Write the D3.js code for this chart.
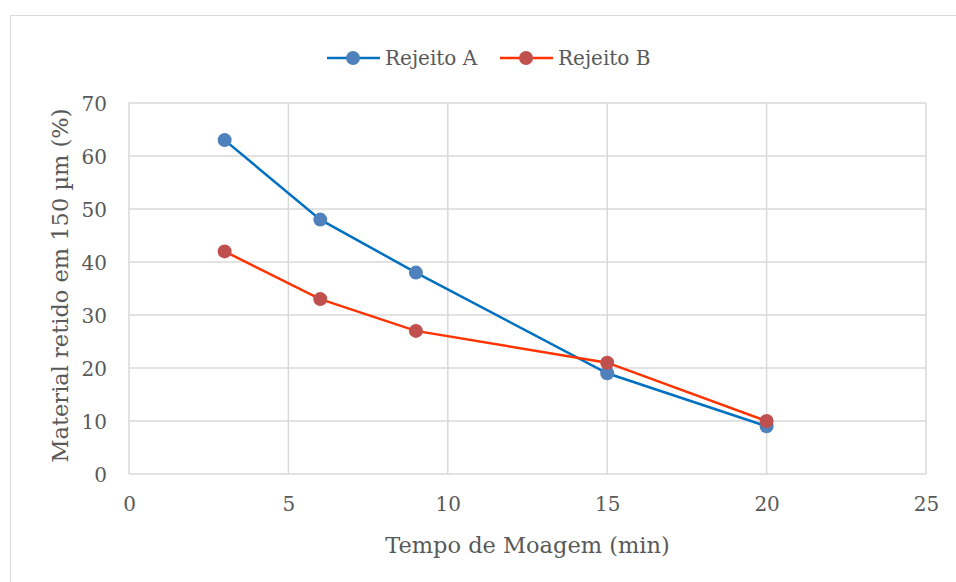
<!DOCTYPE html>
<html>
<head>
<meta charset="utf-8">
<script src="https://cdn.jsdelivr.net/npm/d3@7"></script>
<style>
  body { margin: 0; background: #fff; }
  svg text { font-family: "DejaVu Serif", serif; fill: #595959; }
</style>
</head>
<body>
<div id="chart"></div>
<script>
// data
var tempo = [3, 6, 9, 15, 20];
var rejeitoA = [63, 48, 38, 19, 9];
var rejeitoB = [42, 33, 27, 21, 10];
var xTicks = [0, 5, 10, 15, 20, 25];
var yTicks = [0, 10, 20, 30, 40, 50, 60, 70];

var series = [
  { name: "Rejeito A", values: rejeitoA, line: "#0070C0", dot: "#4F81BD" },
  { name: "Rejeito B", values: rejeitoB, line: "#FF3300", dot: "#C0504D" }
];

var svgWidth = 956;
var svgHeight = 582;

var margin = { top: 103, right: 30, bottom: 108, left: 129 };
var width = 926 - margin.left;
var height = 474 - margin.top;

var svg = d3.select("#chart")
  .append("svg")
  .attr("width", svgWidth)
  .attr("height", svgHeight);

// outer chart border
svg.append("rect")
  .attr("x", 10.5)
  .attr("y", 15.5)
  .attr("width", 960)
  .attr("height", 600)
  .attr("fill", "none")
  .attr("stroke", "#d9d9d9");

var chartGroup = svg.append("g")
  .attr("transform", `translate(${margin.left}, ${margin.top})`);

var x = d3.scaleLinear().domain([0, 25]).range([0, width]);
var y = d3.scaleLinear().domain([0, 70]).range([height, 0]);

// gridlines
chartGroup.append("g")
  .selectAll("line")
  .data(xTicks)
  .enter()
  .append("line")
  .attr("x1", d => x(d)).attr("x2", d => x(d))
  .attr("y1", 0).attr("y2", height)
  .attr("stroke", "#d9d9d9")
  .attr("stroke-width", 1.5);

chartGroup.append("g")
  .selectAll("line")
  .data(yTicks)
  .enter()
  .append("line")
  .attr("x1", 0).attr("x2", width)
  .attr("y1", d => y(d)).attr("y2", d => y(d))
  .attr("stroke", "#d9d9d9")
  .attr("stroke-width", 1.5);

// axes (labels only)
var xAxis = d3.axisBottom(x).tickValues(xTicks).tickSize(0).tickPadding(23);
var yAxis = d3.axisLeft(y).tickValues(yTicks).tickSize(0).tickPadding(22);

var gx = chartGroup.append("g")
  .attr("transform", `translate(0, ${height})`)
  .call(xAxis);
var gy = chartGroup.append("g").call(yAxis);

[gx, gy].forEach(g => {
  g.attr("font-family", null).attr("font-size", null);
  g.select(".domain").remove();
  g.selectAll("text")
    .style("font-size", "20px")
    .attr("fill", null);
});
gy.selectAll("text").attr("dy", "0.35em");

// lines and markers
var line = d3.line()
  .x((d, i) => x(tempo[i]))
  .y(d => y(d));

series.forEach(s => {
  chartGroup.append("path")
    .datum(s.values)
    .attr("d", line)
    .attr("fill", "none")
    .attr("stroke", s.line)
    .attr("stroke-width", 2.5);

  chartGroup.selectAll(null)
    .data(s.values)
    .enter()
    .append("circle")
    .attr("cx", (d, i) => x(tempo[i]))
    .attr("cy", d => y(d))
    .attr("r", 7)
    .attr("fill", s.dot);
});

// legend
var legendX = [327, 500];
series.forEach((s, i) => {
  var lg = svg.append("g").attr("transform", `translate(${legendX[i]}, 58)`);
  lg.append("line")
    .attr("x1", 0).attr("x2", 53)
    .attr("stroke", s.line)
    .attr("stroke-width", 2.5);
  lg.append("circle")
    .attr("cx", 26).attr("r", 7)
    .attr("fill", s.dot);
  lg.append("text")
    .attr("x", 58)
    .attr("dy", "0.35em")
    .style("font-size", "20px")
    .text(s.name);
});

// axis titles
svg.append("text")
  .attr("x", margin.left + width / 2)
  .attr("y", 553)
  .attr("text-anchor", "middle")
  .style("font-size", "22.5px")
  .text("Tempo de Moagem (min)");

svg.append("text")
  .attr("transform", `translate(68, ${margin.top + height / 2 - 3}) rotate(-90)`)
  .attr("text-anchor", "middle")
  .style("font-size", "22.5px")
  .text("Material retido em 150 µm (%)");
</script>
</body>
</html>
